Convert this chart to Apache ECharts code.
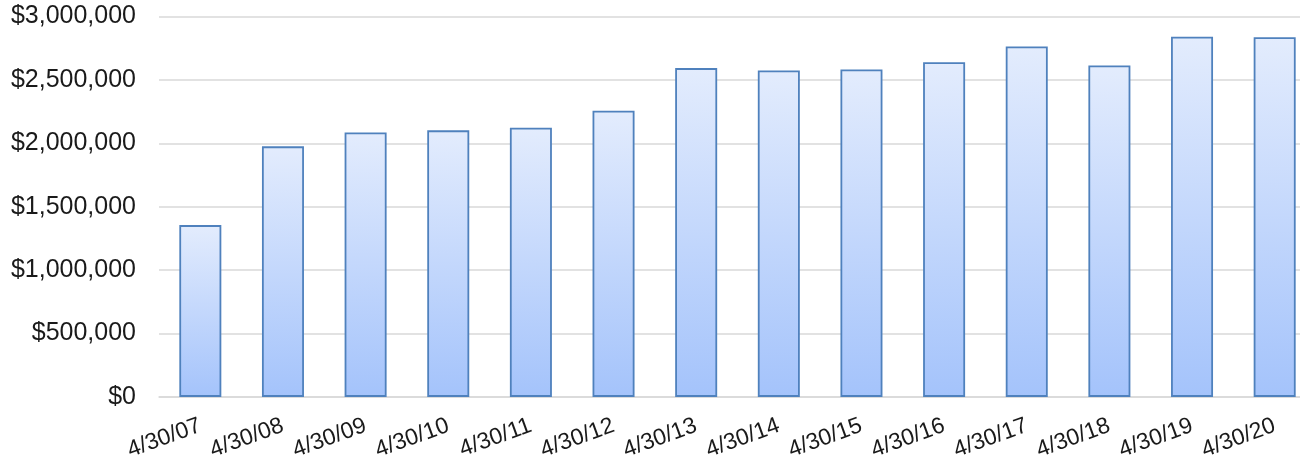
<!DOCTYPE html>
<html>
<head>
<meta charset="utf-8">
<style>
html,body{margin:0;padding:0;background:#fff;overflow:hidden;width:1300px;height:463px;}
#chart{width:1316px;height:463px;}
</style>
<script src="https://cdn.jsdelivr.net/npm/echarts@6/dist/echarts.min.js"></script>
</head>
<body>
<div id="chart"></div>
<script>
const categories = ["4/30/07","4/30/08","4/30/09","4/30/10","4/30/11","4/30/12","4/30/13","4/30/14","4/30/15","4/30/16","4/30/17","4/30/18","4/30/19","4/30/20"];
const values = [1355000,1976000,2086000,2102000,2123000,2257000,2593000,2574000,2582000,2640000,2763000,2613000,2841000,2836000];
const yMin = 0, yMax = 3000000, yInterval = 500000;

const chart = echarts.init(document.getElementById('chart'));
chart.setOption({
  animation: false,
  grid: {left: 159, right: 0, top: 16.5, bottom: 65, containLabel: false},
  xAxis: {
    type: 'category',
    data: categories,
    axisLine: {show: true, lineStyle: {color: '#d9d9d9', width: 1.5}},
    axisTick: {show: false},
    axisLabel: {
      interval: 0, rotate: 20, margin: 28,
      fontFamily: 'Liberation Sans', fontSize: 23, color: '#1a1a1a'
    }
  },
  yAxis: {
    type: 'value',
    min: yMin, max: yMax, interval: yInterval,
    axisLine: {show: false},
    axisTick: {show: false},
    splitLine: {lineStyle: {color: '#d9d9d9', width: 1.5}},
    axisLabel: {
      margin: 23,
      fontFamily: 'Liberation Sans', fontSize: 25, color: '#1a1a1a',
      formatter: v => '$' + v.toLocaleString('en-US')
    }
  },
  series: [{
    type: 'bar',
    data: values,
    barWidth: 42,
    itemStyle: {
      color: new echarts.graphic.LinearGradient(0, 0, 0, 1, [
        {offset: 0, color: '#e3ecfd'},
        {offset: 1, color: '#a4c3fb'}
      ]),
      borderColor: '#4f81bd',
      borderWidth: 1.8
    }
  }]
});
</script>
</body>
</html>
